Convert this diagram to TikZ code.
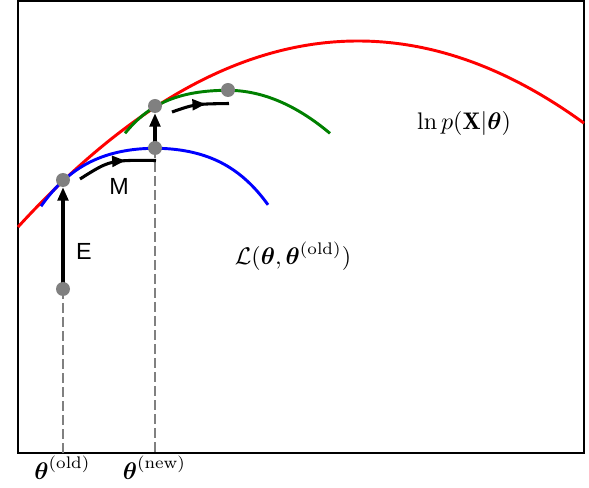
\documentclass[tikz,border=0pt]{standalone}
\usepackage{amsmath}
\usepackage{fontspec}
\newfontfamily\lblsf{Liberation Sans}
\usetikzlibrary{arrows.meta,decorations.markings,backgrounds}
\definecolor{dotgray}{RGB}{128,128,128}
\definecolor{mplgreen}{RGB}{0,128,0}
\begin{document}
\begin{tikzpicture}[x=0.75pt,y=-0.75pt,
  curve/.style={line width=2.2pt},
  dot/.style={circle, fill=dotgray, inner sep=0pt, minimum size=10.5pt},
  guide/.style={dotgray, line width=2pt, dash pattern=on 7.5pt off 3pt},
  estep/.style={line width=2.3pt, -{Triangle[length=10pt,width=8pt]}},
  mstep/.style={line width=2.3pt, postaction={decorate},
    decoration={markings, mark=at position #1 with {\arrow{Triangle[length=10pt,width=8pt]}}}},
  mathlbl/.style={scale=1.8, inner sep=0pt},
  sflbl/.style={font=\lblsf\fontsize{17.5}{20}\selectfont, inner sep=0pt}]
\useasboundingbox (0,0) rectangle (589,488);

% dots (drawn on top; lines go to background layer)
\node[dot] (d1) at (63,289) {};
\node[dot] (d2) at (63,180) {};
\node[dot] (d3) at (155,148) {};
\node[dot] (d4) at (155,106) {};
\node[dot] (d5) at (228,90) {};

\coordinate (a1) at (63,453);
\coordinate (a2) at (155,453);
\coordinate (m1s) at (80,179);
\coordinate (m1c) at (110,160);
\coordinate (m1e) at (156,160.5);
\coordinate (m2s) at (172,112);
\coordinate (m2c) at (195,104);
\coordinate (m2e) at (229,103.5);

\begin{pgfonlayer}{background}
  % frame
  \draw[line width=1.4pt] (18,1) rectangle (584,453);
  % guides
  \draw[guide] (d1.center) -- (a1);
  \draw[guide] (d3.center) -- (a2);
  % curves
  \draw[red, curve] plot[domain=18:584, samples=150, smooth]
     (\x,{41+16.09*((\x-358)/100)^2});
  \draw[blue, curve] plot[domain=41:268, samples=100, smooth]
     (\x,{148.3+26.9*((\x-155)/100)^2+13.6*((\x-155)/100)^4});
  \draw[mplgreen, curve] plot[domain=125:330, samples=100, smooth]
     (\x,{\x<227.5 ? 90.3+21.84*((\x-227.5)/100)^2+18.17*((\x-227.5)/100)^4
                    : 90.3+41*((\x-227.5)/100)^2});
  % E steps
  \draw[estep] (d1.center) -- (d2.south);
  \draw[estep] (d3.center) -- (d4.south);
  % M steps
  \draw[mstep=0.62] (m1s) .. controls (m1c) .. (m1e);
  \draw[mstep=0.6] (m2s) .. controls (m2c) .. (m2e);
\end{pgfonlayer}

% labels
\node[sflbl] (lE) at (84,251) {E};
\node[sflbl] (lM) at (119,186.5) {M};
\node[mathlbl, anchor=base] (lp) at (464,130) {$\ln p(\mathbf{X}|\boldsymbol{\theta})$};
\node[mathlbl, anchor=base] (lL) at (293,265) {$\mathcal{L}(\boldsymbol{\theta},\boldsymbol{\theta}^{(\mathrm{old})})$};
\node[mathlbl, anchor=base] (lo) at (62.5,479) {$\boldsymbol{\theta}^{(\mathrm{old})}$};
\node[mathlbl, anchor=base] (ln) at (154.5,479) {$\boldsymbol{\theta}^{(\mathrm{new})}$};
\end{tikzpicture}
\end{document}
